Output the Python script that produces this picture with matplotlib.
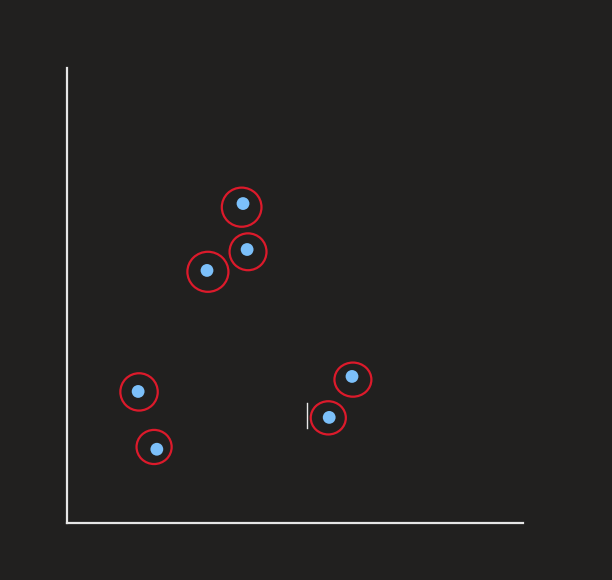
import numpy as np
import matplotlib.pyplot as plt
from matplotlib.patches import Ellipse

# points (axis units 0-100)
pt_x = [38.6, 39.5, 30.7, 15.6, 19.7, 62.5, 57.5]
pt_y = [70.1, 60.0, 55.4, 28.8, 16.1, 32.1, 23.1]

# red rings drawn round each point (centre, width, height)
ring_x = [38.3, 39.7, 30.9, 15.8, 19.1, 62.7, 57.3]
ring_y = [69.3, 59.5, 55.1, 28.7, 16.6, 31.4, 23.0]
ring_w = [8.7, 8.1, 9.0, 8.2, 7.7, 8.1, 7.7]
ring_h = [8.6, 8.1, 8.8, 8.2, 7.5, 7.5, 7.3]

# small cursor mark
cur_x = 52.6
cur_y = [20.7, 26.2]

bg = '#21201f'
fig = plt.figure(figsize=(6.12, 5.8), dpi=100)
fig.patch.set_facecolor(bg)
ax = fig.add_axes([67/612, 57.5/580, 456/612, 455/580])
ax.set_facecolor(bg)
ax.set_xlim(0, 100)
ax.set_ylim(0, 100)

ax.scatter(pt_x, pt_y, s=85, color='#7cc0fa', edgecolors='none', zorder=3)
for cx, cy, w, h in zip(ring_x, ring_y, ring_w, ring_h):
  ax.add_patch(Ellipse((cx, cy), w, h, fill=False, edgecolor='#dc1a2b', lw=1.6, zorder=4))
ax.plot([cur_x, cur_x], cur_y, color='#e8e8e8', lw=1, zorder=2)

for s in ['top', 'right']:
  ax.spines[s].set_visible(False)
for s in ['left', 'bottom']:
  ax.spines[s].set_color('#e6e6e6')
  ax.spines[s].set_linewidth(1.6)
ax.set_xticks([])
ax.set_yticks([])

fig.savefig('out.png', dpi=100, facecolor=bg)
